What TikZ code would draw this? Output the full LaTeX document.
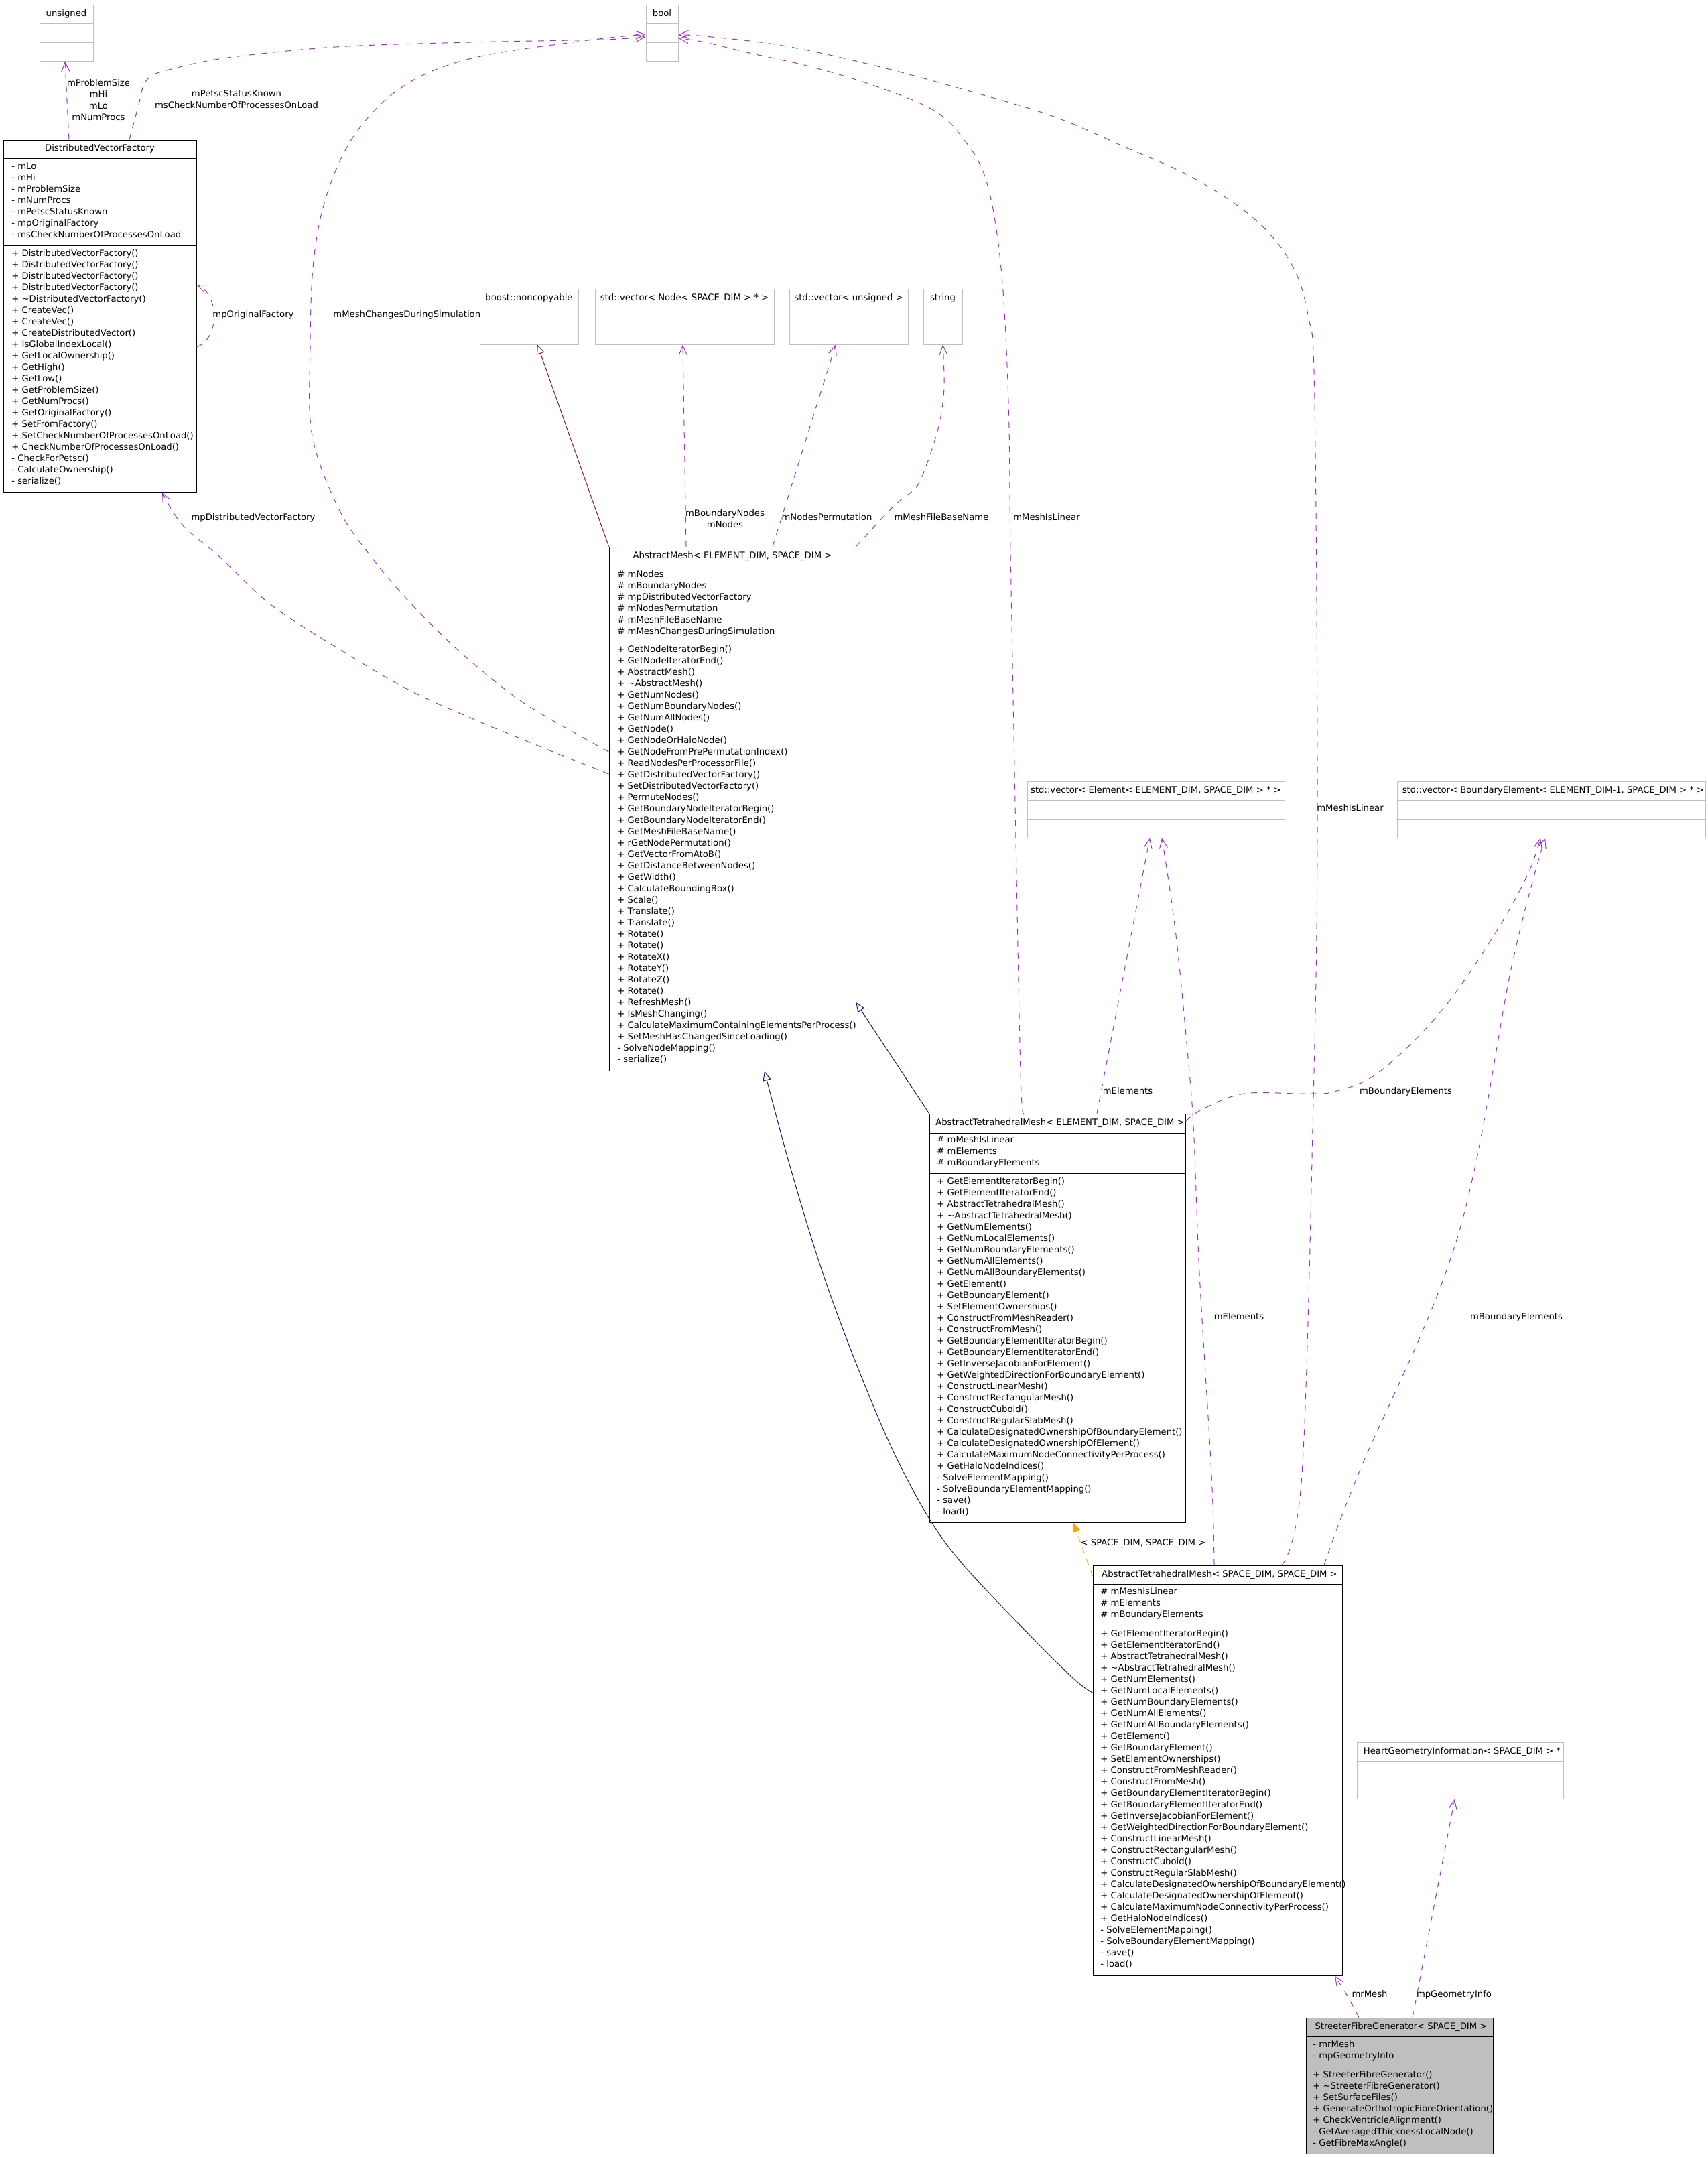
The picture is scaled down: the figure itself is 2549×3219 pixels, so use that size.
\documentclass[tikz,border=0pt]{standalone}
\usepackage{fontspec}
\setmainfont{DejaVu Sans}
\usetikzlibrary{arrows.meta,calc,fit}
\definecolor{depc}{HTML}{9A32CD}
\definecolor{inhc}{HTML}{191970}
\definecolor{inhred}{HTML}{8B1A1A}
\definecolor{tmplc}{HTML}{FFA500}
\definecolor{boxgray}{HTML}{BFBFBF}
\newcommand\mkbox[8]{%
  \node[#8, fit={(#2,#3) (#4,#5)}] (#1) {};
  \draw[#8] (#2,#6) -- (#4,#6) (#2,#7) -- (#4,#7);
}
\newcommand\mklines[4]{\foreach \txt [count=\i] in {#4} {\node[ln] (#1-\i) at (#2,{#3+17*(\i-1)}) {\txt};}}
\begin{document}
\begin{tikzpicture}[x=0.5pt,y=-0.5pt,
  every node/.style={font=\fontsize{6.6}{8.5}\selectfont},
  ln/.style={anchor=west, inner sep=0pt, text height=5pt, text depth=1.5pt},
  ttl/.style={anchor=center, inner sep=0pt, text height=5pt, text depth=1.5pt},
  lbl/.style={inner sep=0pt, text height=5pt, text depth=1.5pt},
  mlbl/.style={inner sep=0pt, align=center},
  blackbox/.style={draw=black, line width=0.5pt, inner sep=0pt},
  graybox/.style={draw=boxgray, line width=0.5pt, inner sep=0pt},
  sfgbox/.style={draw=black, fill=boxgray, line width=0.5pt, inner sep=0pt},
  depline/.style={draw=depc, line width=0.5pt, dash pattern=on 4.5pt off 4.5pt, -{Straight Barb[length=7pt,width=6pt]}},
  inhline/.style={draw=inhc, line width=0.5pt, -{Triangle[open,length=7pt,width=6pt,fill=white]}},
  redline/.style={draw=inhred, line width=0.5pt, -{Triangle[open,length=7pt,width=6pt,fill=white]}},
  tmplline/.style={draw=tmplc, line width=0.5pt, dash pattern=on 4.5pt off 4.5pt, -{Triangle[length=7pt,width=6pt]}},
]
\fill[white] (0,0) rectangle (2549,3219);
\useasboundingbox (0,0) rectangle (2549,3219);

% ---------- boxes ----------
\mkbox{uns}{59}{7}{139}{91}{35}{63}{graybox}
\node[ttl] (uns-t) at (99,21) {unsigned};
\mkbox{bool}{964}{7}{1012}{91}{35}{63}{graybox}
\node[ttl] (bool-t) at (988,21) {bool};

\mkbox{dvf}{5}{209}{293}{734}{236}{366}{blackbox}
\node[ttl] (dvf-t) at (149,222) {DistributedVectorFactory};
\mklines{dvfa}{17}{249}{{- mLo},{- mHi},{- mProblemSize},{- mNumProcs},{- mPetscStatusKnown},{- mpOriginalFactory},{- msCheckNumberOfProcessesOnLoad}}
\mklines{dvfm}{17}{379}{{+ DistributedVectorFactory()},{+ DistributedVectorFactory()},{+ DistributedVectorFactory()},{+ DistributedVectorFactory()},{+ \textasciitilde DistributedVectorFactory()},{+ CreateVec()},{+ CreateVec()},{+ CreateDistributedVector()},{+ IsGlobalIndexLocal()},{+ GetLocalOwnership()},{+ GetHigh()},{+ GetLow()},{+ GetProblemSize()},{+ GetNumProcs()},{+ GetOriginalFactory()},{+ SetFromFactory()},{+ SetCheckNumberOfProcessesOnLoad()},{+ CheckNumberOfProcessesOnLoad()},{- CheckForPetsc()},{- CalculateOwnership()},{- serialize()}}

\mkbox{nonc}{716}{431}{863}{514}{459}{486}{graybox}
\node[ttl] (nonc-t) at (789.5,445) {boost::noncopyable};
\mkbox{vnode}{888}{431}{1155}{514}{459}{486}{graybox}
\node[ttl] (vnode-t) at (1021.5,445) {std::vector< Node< SPACE\_DIM > * >};
\mkbox{vuns}{1178}{431}{1355}{514}{459}{486}{graybox}
\node[ttl] (vuns-t) at (1266.5,445) {std::vector< unsigned >};
\mkbox{str}{1378}{431}{1436}{514}{459}{486}{graybox}
\node[ttl] (str-t) at (1407,445) {string};

\mkbox{am}{909}{816}{1277}{1598}{844}{959}{blackbox}
\node[ttl] (am-t) at (1093,830) {AbstractMesh< ELEMENT\_DIM, SPACE\_DIM >};
\mklines{ama}{921}{858}{{\# mNodes},{\# mBoundaryNodes},{\# mpDistributedVectorFactory},{\# mNodesPermutation},{\# mMeshFileBaseName},{\# mMeshChangesDuringSimulation}}
\mklines{amm}{921}{970}{{+ GetNodeIteratorBegin()},{+ GetNodeIteratorEnd()},{+ AbstractMesh()},{+ \textasciitilde AbstractMesh()},{+ GetNumNodes()},{+ GetNumBoundaryNodes()},{+ GetNumAllNodes()},{+ GetNode()},{+ GetNodeOrHaloNode()},{+ GetNodeFromPrePermutationIndex()},{+ ReadNodesPerProcessorFile()},{+ GetDistributedVectorFactory()},{+ SetDistributedVectorFactory()},{+ PermuteNodes()},{+ GetBoundaryNodeIteratorBegin()},{+ GetBoundaryNodeIteratorEnd()},{+ GetMeshFileBaseName()},{+ rGetNodePermutation()},{+ GetVectorFromAtoB()},{+ GetDistanceBetweenNodes()},{+ GetWidth()},{+ CalculateBoundingBox()},{+ Scale()},{+ Translate()},{+ Translate()},{+ Rotate()},{+ Rotate()},{+ RotateX()},{+ RotateY()},{+ RotateZ()},{+ Rotate()},{+ RefreshMesh()},{+ IsMeshChanging()},{+ CalculateMaximumContainingElementsPerProcess()},{+ SetMeshHasChangedSinceLoading()},{- SolveNodeMapping()},{- serialize()}}

\mkbox{vel}{1533}{1166}{1917}{1250}{1194}{1222}{graybox}
\node[ttl] (vel-t) at (1725,1180) {std::vector< Element< ELEMENT\_DIM, SPACE\_DIM > * >};
\mkbox{vbel}{2085}{1166}{2545}{1250}{1194}{1222}{graybox}
\node[ttl] (vbel-t) at (2318,1180) {std::vector< BoundaryElement< ELEMENT\_DIM-1, SPACE\_DIM > * >};

\mkbox{atE}{1387}{1662}{1769}{2272}{1691}{1751}{blackbox}
\node[ttl] (atE-t) at (1582,1676) {AbstractTetrahedralMesh< ELEMENT\_DIM, SPACE\_DIM >};
\mklines{atEa}{1398}{1702}{{\# mMeshIsLinear},{\# mElements},{\# mBoundaryElements}}
\mklines{atEm}{1398}{1764}{{+ GetElementIteratorBegin()},{+ GetElementIteratorEnd()},{+ AbstractTetrahedralMesh()},{+ \textasciitilde AbstractTetrahedralMesh()},{+ GetNumElements()},{+ GetNumLocalElements()},{+ GetNumBoundaryElements()},{+ GetNumAllElements()},{+ GetNumAllBoundaryElements()},{+ GetElement()},{+ GetBoundaryElement()},{+ SetElementOwnerships()},{+ ConstructFromMeshReader()},{+ ConstructFromMesh()},{+ GetBoundaryElementIteratorBegin()},{+ GetBoundaryElementIteratorEnd()},{+ GetInverseJacobianForElement()},{+ GetWeightedDirectionForBoundaryElement()},{+ ConstructLinearMesh()},{+ ConstructRectangularMesh()},{+ ConstructCuboid()},{+ ConstructRegularSlabMesh()},{+ CalculateDesignatedOwnershipOfBoundaryElement()},{+ CalculateDesignatedOwnershipOfElement()},{+ CalculateMaximumNodeConnectivityPerProcess()},{+ GetHaloNodeIndices()},{- SolveElementMapping()},{- SolveBoundaryElementMapping()},{- save()},{- load()}}

\mkbox{atS}{1631}{2336}{2003}{2948}{2364}{2426}{blackbox}
\node[ttl] (atS-t) at (1820,2350) {AbstractTetrahedralMesh< SPACE\_DIM, SPACE\_DIM >};
\mklines{atSa}{1642}{2376}{{\# mMeshIsLinear},{\# mElements},{\# mBoundaryElements}}
\mklines{atSm}{1642}{2439}{{+ GetElementIteratorBegin()},{+ GetElementIteratorEnd()},{+ AbstractTetrahedralMesh()},{+ \textasciitilde AbstractTetrahedralMesh()},{+ GetNumElements()},{+ GetNumLocalElements()},{+ GetNumBoundaryElements()},{+ GetNumAllElements()},{+ GetNumAllBoundaryElements()},{+ GetElement()},{+ GetBoundaryElement()},{+ SetElementOwnerships()},{+ ConstructFromMeshReader()},{+ ConstructFromMesh()},{+ GetBoundaryElementIteratorBegin()},{+ GetBoundaryElementIteratorEnd()},{+ GetInverseJacobianForElement()},{+ GetWeightedDirectionForBoundaryElement()},{+ ConstructLinearMesh()},{+ ConstructRectangularMesh()},{+ ConstructCuboid()},{+ ConstructRegularSlabMesh()},{+ CalculateDesignatedOwnershipOfBoundaryElement()},{+ CalculateDesignatedOwnershipOfElement()},{+ CalculateMaximumNodeConnectivityPerProcess()},{+ GetHaloNodeIndices()},{- SolveElementMapping()},{- SolveBoundaryElementMapping()},{- save()},{- load()}}

\mkbox{hgi}{2025}{2600}{2333}{2684}{2628}{2656}{graybox}
\node[ttl] (hgi-t) at (2182,2614) {HeartGeometryInformation< SPACE\_DIM > *};

\mkbox{sfg}{1949}{3011}{2228}{3214}{3039}{3084}{sfgbox}
\node[ttl] (sfg-t) at (2091,3025) {StreeterFibreGenerator< SPACE\_DIM >};
\mklines{sfga}{1959}{3052}{{- mrMesh},{- mpGeometryInfo}}
\mklines{sfgm}{1959}{3097}{{+ StreeterFibreGenerator()},{+ \textasciitilde StreeterFibreGenerator()},{+ SetSurfaceFiles()},{+ GenerateOrthotropicFibreOrientation()},{+ CheckVentricleAlignment()},{- GetAveragedThicknessLocalNode()},{- GetFibreMaxAngle()}}

% ---------- connectors ----------
\draw[depline] (103,0 |- dvf.north) -- (97,0 |- uns.south);
\node[mlbl] (l-uns) at (147,149) {mProblemSize\\mHi\\mLo\\mNumProcs};

\draw[depline] plot[smooth, tension=0.5] coordinates {(193,0 |- dvf.north) (207,156) (216,124) (238,108) (333,87) (500,70) (700,63) (900,59) (bool.west |- 0,55)};
\node[mlbl] (l-petsc) at (353,148) {mPetscStatusKnown\\msCheckNumberOfProcessesOnLoad};

\draw[depline] (dvf.east |- 0,518) .. controls (328,505) and (328,440) .. (dvf.east |- 0,425);
\node[lbl, anchor=west] (l-orig) at (317,470) {mpOriginalFactory};

\draw[depline] plot[smooth, tension=0.6] coordinates {(am.west |- 0,1155) (813,1117) (711,1075) (609,1029) (507,969) (405,903) (329,832) (272,783) (242,0 |- dvf.south)};
\node[lbl] (l-pdvf) at (378,773) {mpDistributedVectorFactory};

\draw[depline] plot[smooth, tension=0.6] coordinates {(am.west |- 0,1122) (788,1053) (711,994) (660,948) (609,896) (558,836) (507,762) (466,650) (463,520) (468,390) (488,290) (530,200) (600,130) (700,88) (862,62) (bool.west |- 0,51)};
\node[lbl, anchor=west] (l-mcds) at (497,470) {mMeshChangesDuringSimulation};

\draw[redline] (am.north west) -- (802,0 |- nonc.south);

\draw[depline] (1024,0 |- am.north) -- (1019,0 |- vnode.south);
\node[mlbl] (l-nodes) at (1082,774) {mBoundaryNodes\\mNodes};

\draw[depline] (1153,0 |- am.north) -- (1247,0 |- vuns.south);
\node[lbl] (l-perm) at (1234,773) {mNodesPermutation};

\draw[depline] plot[smooth, tension=0.5] coordinates {(am.north east) (1326,763) (1343,747) (1372,720) (1400,640) (1409,580) (str.south)};
\node[lbl] (l-fbn) at (1405,773) {mMeshFileBaseName};

\draw[depline] plot[smooth, tension=0.6] coordinates {(1528,0 |- atE.north) (1523,1600) (1515,1200) (1508,821) (1505,600) (1494,400) (1472,270) (1436,205) (1391,163) (1302,127) (1212,100) (1123,80) (1052,63) (bool.east |- 0,57)};
\node[lbl] (l-lin1) at (1562,773) {mMeshIsLinear};

\draw[depline] plot[smooth, tension=0.6] coordinates {(1913,0 |- atS.north) (1943,2200) (1960,1642) (1966,1231) (1962,600) (1952,470) (1925,390) (1870,325) (1780,265) (1680,220) (1570,173) (1436,133) (1302,97) (1168,68) (1052,54) (bool.east |- 0,52)};
\node[lbl] (l-lin2) at (2015,1207) {mMeshIsLinear};

\draw[depline] (1637,0 |- atE.north) -- (1716,0 |- vel.south);
\node[lbl] (l-el1) at (1683,1629) {mElements};

\draw[depline] plot[smooth, tension=0.6] coordinates {(atE.east |- 0,1673) (1797,1654) (1857,1632) (1946,1632) (1991,1629) (2058,1600) (2150,1510) (2230,1395) (2280,1305) (2299,0 |- vbel.south)};
\node[lbl] (l-bel1) at (2098,1629) {mBoundaryElements};

\draw[depline] plot[smooth, tension=0.6] coordinates {(1812,0 |- atS.north) (1808,2200) (1790,1900) (1782,1700) (1775,1600) (1755,1396) (1734,0 |- vel.south)};
\node[lbl] (l-el2) at (1849,1966) {mElements};

\draw[depline] plot[smooth, tension=0.6] coordinates {(1976,0 |- atS.north) (2027,2200) (2175,1847) (2257,1437) (2306,0 |- vbel.south)};
\node[lbl] (l-bel2) at (2263,1966) {mBoundaryElements};

\draw[tmplline] (atS.west |- 0,2352) -- (1602,0 |- atE.south);
\node[lbl] (l-tmpl) at (1706,2303) {< SPACE\_DIM, SPACE\_DIM >};

\draw[inhline] (atE.north west) -- (am.east |- 0,1496);

\draw[inhline] plot[smooth, tension=0.6] coordinates {(atS.west |- 0,2526) (1600,2503) (1519,2422) (1416,2309) (1350,2200) (1293,2073) (1231,1909) (1180,1744) (1141,0 |- am.south)};

\draw[depline] (2028,0 |- sfg.north) .. controls (2012,2980) .. (1992,0 |- atS.south);
\node[lbl] (l-mr) at (2044,2977) {mrMesh};

\draw[depline] (2108,0 |- sfg.north) -- (2171,0 |- hgi.south);
\node[lbl] (l-geo) at (2170,2977) {mpGeometryInfo};
\end{tikzpicture}
\end{document}
